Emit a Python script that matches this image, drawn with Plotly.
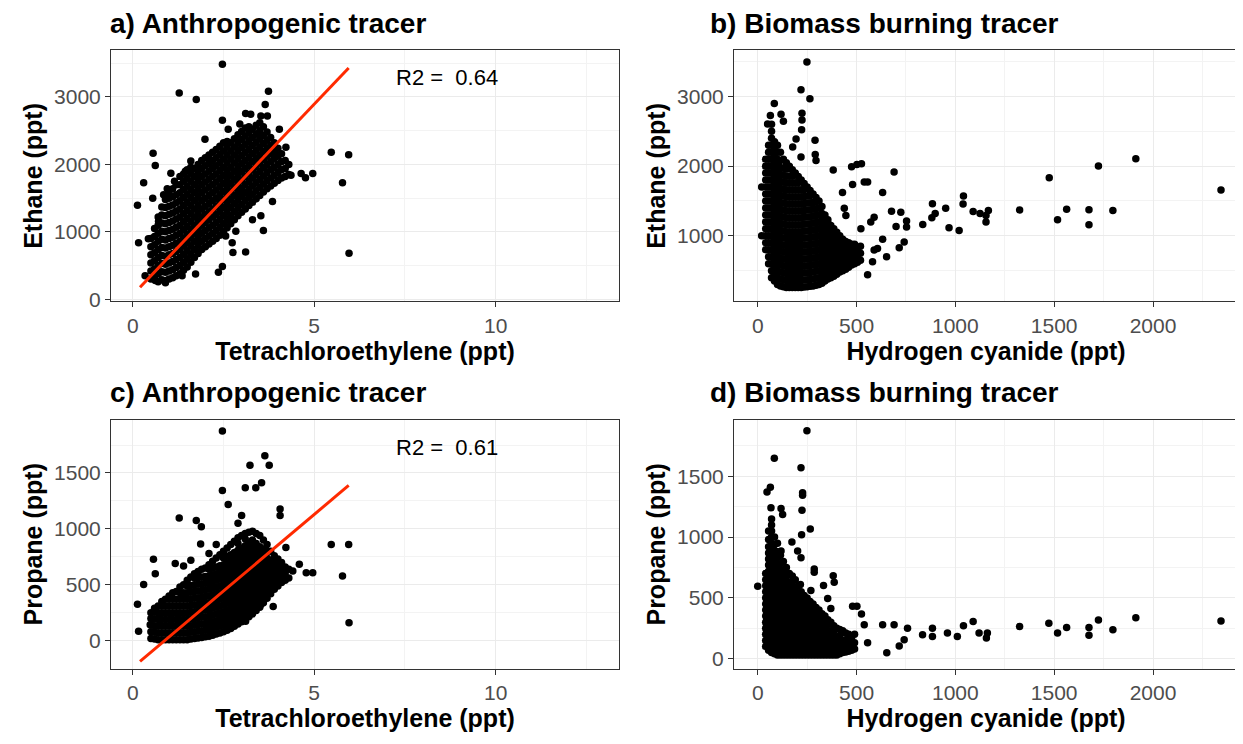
import plotly.graph_objects as go

# ---------------- Panel a: Tetrachloroethylene vs Ethane ----------------
A_OUT_X = [2.47, 1.28, 1.75, 3.74, 3.65, 5.47, 5.95, 5.78, 5.96, 0.13, 0.16, 0.56, 0.62, 0.30, 1.99, 2.47, 2.63,
           3.11, 3.25, 3.53, 3.71, 4.04, 4.22, 4.64, 4.76, 4.96, 4.36, 3.85, 3.60, 3.11, 2.76, 2.47, 2.36, 0.71,
           0.43, 3.53, 3.30, 3.21, 3.02, 2.70, 2.84, 2.56, 2.74, 0.34, 0.62, 0.90, 1.36, 1.73,
           0.95, 1.05, 1.45, 1.60, 2.05, 2.20, 1.15, 0.85, 0.55, 3.45, 3.95, 2.95]
A_OUT_Y = [3484, 3060, 2962, 3084, 2889, 2181, 2142, 1728, 683, 1396, 839, 2167, 1986, 1728, 2372, 2655, 2523,
           2757, 2743, 2718, 2718, 2523, 2255, 1864, 1801, 1864, 1840, 1449, 1020, 703, 693, 488, 400, 1157,
           898, 1240, 1181, 1523, 1571, 1181, 1010, 937, 839, 351, 278, 244, 351, 376,
           1640, 1870, 1900, 2050, 2100, 1950, 1750, 1550, 1500, 2450, 2150, 2600]
A_CLOUD_X = [0.5, 0.7, 0.9, 1.1, 1.3, 1.5, 1.7, 1.9, 2.1, 2.3, 2.5, 2.7, 2.9, 3.1, 3.3, 3.5, 3.7, 3.9, 4.1, 4.3,
             0.6, 0.8, 1.0, 1.2, 1.4, 1.6, 1.8, 2.0, 2.2, 2.4, 2.6, 2.8, 3.0, 3.2, 3.4, 3.6, 3.8, 4.0, 4.2]
A_CLOUD_Y = [
    [300, 420, 540, 660, 780, 900],
    [260, 380, 500, 620, 740, 860, 980, 1100, 1220],
    [280, 400, 520, 640, 760, 880, 1000, 1120, 1240, 1360, 1480],
    [320, 440, 560, 680, 800, 920, 1040, 1160, 1280, 1400, 1520, 1640],
    [380, 500, 620, 740, 860, 980, 1100, 1220, 1340, 1460, 1580, 1700, 1820],
    [480, 600, 720, 840, 960, 1080, 1200, 1320, 1440, 1560, 1680, 1800, 1920],
    [620, 740, 860, 980, 1100, 1220, 1340, 1460, 1580, 1700, 1820, 1940],
    [740, 860, 980, 1100, 1220, 1340, 1460, 1580, 1700, 1820, 1940, 2060],
    [820, 940, 1060, 1180, 1300, 1420, 1540, 1660, 1780, 1900, 2020, 2140],
    [900, 1020, 1140, 1260, 1380, 1500, 1620, 1740, 1860, 1980, 2100, 2220],
    [1000, 1120, 1240, 1360, 1480, 1600, 1720, 1840, 1960, 2080, 2200, 2320],
    [1120, 1240, 1360, 1480, 1600, 1720, 1840, 1960, 2080, 2200, 2320],
    [1240, 1360, 1480, 1600, 1720, 1840, 1960, 2080, 2200, 2320, 2440],
    [1340, 1460, 1580, 1700, 1820, 1940, 2060, 2180, 2300, 2420, 2540],
    [1440, 1560, 1680, 1800, 1920, 2040, 2160, 2280, 2400, 2520],
    [1540, 1660, 1780, 1900, 2020, 2140, 2260, 2380, 2500, 2620],
    [1640, 1760, 1880, 2000, 2120, 2240, 2360, 2480],
    [1720, 1840, 1960, 2080, 2200, 2320],
    [1800, 1920, 2040, 2160],
    [1850, 2000],
    [330, 450, 570, 690, 810, 930, 1050],
    [290, 410, 530, 650, 770, 890, 1010, 1130, 1250, 1370],
    [300, 420, 540, 660, 780, 900, 1020, 1140, 1260, 1380, 1500, 1580],
    [350, 470, 590, 710, 830, 950, 1070, 1190, 1310, 1430, 1550, 1700],
    [430, 550, 670, 790, 910, 1030, 1150, 1270, 1390, 1510, 1630, 1750, 1860],
    [550, 670, 790, 910, 1030, 1150, 1270, 1390, 1510, 1630, 1750, 1870, 1960],
    [680, 800, 920, 1040, 1160, 1280, 1400, 1520, 1640, 1760, 1880, 2000],
    [780, 900, 1020, 1140, 1260, 1380, 1500, 1620, 1740, 1860, 1980, 2100],
    [860, 980, 1100, 1220, 1340, 1460, 1580, 1700, 1820, 1940, 2060, 2180],
    [950, 1070, 1190, 1310, 1430, 1550, 1670, 1790, 1910, 2030, 2150, 2270],
    [1060, 1180, 1300, 1420, 1540, 1660, 1780, 1900, 2020, 2140, 2260, 2340],
    [1180, 1300, 1420, 1540, 1660, 1780, 1900, 2020, 2140, 2260, 2380],
    [1290, 1410, 1530, 1650, 1770, 1890, 2010, 2130, 2250, 2370, 2490],
    [1390, 1510, 1630, 1750, 1870, 1990, 2110, 2230, 2350, 2470, 2560],
    [1490, 1610, 1730, 1850, 1970, 2090, 2210, 2330, 2450, 2580],
    [1590, 1710, 1830, 1950, 2070, 2190, 2310, 2430, 2560],
    [1680, 1800, 1920, 2040, 2160, 2280, 2400],
    [1760, 1880, 2000, 2120, 2240],
    [1820, 1940, 2060],
]
A_FIT_X = [0.2, 5.95]
A_FIT_Y = [180, 3430]

# ---------------- Panel b: HCN vs Ethane ----------------
B_OUT_X = [249, 219, 264, 84, 64, 118, 130, 224, 224, 222, 50, 290, 194, 177, 291, 295, 219, 475, 502, 525, 690,
           382, 539, 556, 480, 632, 429, 1041, 1039, 884, 951, 898, 881, 835, 968, 1019, 1090, 1125, 1167, 1155,
           1155, 1325, 1475, 1517, 1563, 1676, 1676, 1724, 1797, 1913, 2344, 677, 724, 700, 753, 753, 741, 716,
           652, 581, 556, 589, 606, 632, 522, 572, 589, 438, 446, 20, 20]
B_OUT_Y = [3495, 3098, 2966, 2900, 2725, 2743, 2644, 2758, 2663, 2521, 2606, 2370, 2389, 2275, 2166, 2081, 2133,
           1991, 2024, 2034, 1916, 1944, 1773, 1773, 1736, 1622, 1622, 1570, 1457, 1461, 1395, 1320, 1258, 1164,
           1116, 1078, 1348, 1320, 1362, 1291, 1197, 1372, 1835, 1230, 1381, 1376, 1159, 2001, 1362, 2105, 1656,
           1353, 1339, 1135, 1211, 1126, 913, 828, 700, 629, 440, 795, 818, 951, 1102, 1197, 1268, 1395, 1291,
           1700, 1000]
B_CLOUD_X = [40, 70, 100, 130, 160, 190, 220, 250, 280, 310, 340, 370, 400, 430, 460, 490, 520,
             55, 85, 115, 145, 175, 205, 235, 265, 295, 325, 355, 385, 415, 445, 475, 505]
B_CLOUD_Y = [
    [800, 900, 1000, 1100, 1200, 1300, 1400, 1500, 1600, 1700, 1800, 1900, 2000, 2100],
    [400, 500, 600, 700, 800, 900, 1000, 1100, 1200, 1300, 1400, 1500, 1600, 1700, 1800, 1900, 2000, 2100, 2200, 2300, 2400, 2500, 2600],
    [300, 400, 500, 600, 700, 800, 900, 1000, 1100, 1200, 1300, 1400, 1500, 1600, 1700, 1800, 1900, 2000, 2100, 2200, 2300],
    [270, 370, 470, 570, 670, 770, 870, 970, 1070, 1170, 1270, 1370, 1470, 1570, 1670, 1770, 1870, 1970, 2100],
    [260, 360, 460, 560, 660, 760, 860, 960, 1060, 1160, 1260, 1360, 1460, 1560, 1660, 1760, 1860, 2000],
    [260, 360, 460, 560, 660, 760, 860, 960, 1060, 1160, 1260, 1360, 1460, 1560, 1660, 1760, 1900],
    [260, 360, 460, 560, 660, 760, 860, 960, 1060, 1160, 1260, 1360, 1460, 1560, 1660, 1800],
    [270, 370, 470, 570, 670, 770, 870, 970, 1070, 1170, 1270, 1370, 1470, 1570, 1700],
    [280, 380, 480, 580, 680, 780, 880, 980, 1080, 1180, 1280, 1380, 1480, 1600],
    [300, 400, 500, 600, 700, 800, 900, 1000, 1100, 1200, 1300, 1400, 1500],
    [350, 450, 550, 650, 750, 850, 950, 1050, 1150, 1250, 1300],
    [400, 500, 600, 700, 800, 900, 1000, 1100, 1150],
    [450, 550, 650, 750, 850, 950, 1050],
    [500, 600, 700, 800, 900, 950],
    [550, 650, 750, 850, 900],
    [600, 700, 800, 880],
    [650, 750, 850],
    [600, 700, 800, 900, 1000, 1100, 1200, 1300, 1400, 1500, 1600, 1700, 1800, 1900, 2000, 2100, 2200, 2300],
    [350, 450, 550, 650, 750, 850, 950, 1050, 1150, 1250, 1350, 1450, 1550, 1650, 1750, 1850, 1950, 2050, 2150, 2250, 2350],
    [280, 380, 480, 580, 680, 780, 880, 980, 1080, 1180, 1280, 1380, 1480, 1580, 1680, 1780, 1880, 1980, 2080, 2200],
    [260, 360, 460, 560, 660, 760, 860, 960, 1060, 1160, 1260, 1360, 1460, 1560, 1660, 1760, 1860, 1960, 2050],
    [260, 360, 460, 560, 660, 760, 860, 960, 1060, 1160, 1260, 1360, 1460, 1560, 1660, 1760, 1860, 1950],
    [260, 360, 460, 560, 660, 760, 860, 960, 1060, 1160, 1260, 1360, 1460, 1560, 1660, 1760, 1850],
    [265, 365, 465, 565, 665, 765, 865, 965, 1065, 1165, 1265, 1365, 1465, 1565, 1665, 1750],
    [275, 375, 475, 575, 675, 775, 875, 975, 1075, 1175, 1275, 1375, 1475, 1575, 1650],
    [290, 390, 490, 590, 690, 790, 890, 990, 1090, 1190, 1290, 1390, 1490, 1550],
    [320, 420, 520, 620, 720, 820, 920, 1020, 1120, 1220, 1320, 1420],
    [380, 480, 580, 680, 780, 880, 980, 1080, 1180, 1230],
    [420, 520, 620, 720, 820, 920, 1020, 1100],
    [480, 580, 680, 780, 880, 980, 1000],
    [520, 620, 720, 820, 920],
    [580, 680, 780, 880],
    [620, 720, 820],
]

# ---------------- Panel c: Tetrachloroethylene vs Propane ----------------
C_OUT_X = [2.47, 3.64, 3.23, 3.76, 3.55, 3.10, 3.39, 2.47, 2.63, 1.28, 1.75, 1.89, 4.06, 4.06, 5.47, 5.95, 5.78,
           5.96, 0.13, 0.16, 0.30, 0.57, 0.62, 1.17, 1.40, 1.87, 4.22, 4.59, 4.78, 4.96, 4.41, 3.90, 3.87, 3.53,
           3.11, 2.79, 2.47, 0.48, 2.10, 2.30, 2.90, 3.00, 1.60]
C_OUT_Y = [1875, 1653, 1569, 1569, 1413, 1368, 1368, 1344, 1218, 1098, 1074, 1020, 1179, 1119, 861, 861, 579,
           162, 327, 84, 504, 729, 600, 690, 669, 864, 834, 684, 609, 609, 624, 570, 306, 324, 174, 180, 249, 144,
           780, 860, 1050, 1120, 720]
C_CLOUD_X = [0.5, 0.7, 0.9, 1.1, 1.3, 1.5, 1.7, 1.9, 2.1, 2.3, 2.5, 2.7, 2.9, 3.1, 3.3, 3.5, 3.7, 3.9, 4.1, 4.3,
             0.6, 0.8, 1.0, 1.2, 1.4, 1.6, 1.8, 2.0, 2.2, 2.4, 2.6, 2.8, 3.0, 3.2, 3.4, 3.6, 3.8, 4.0, 4.2]
C_CLOUD_Y = [
    [20, 80, 140, 200, 250],
    [10, 70, 130, 190, 250, 310],
    [10, 70, 130, 190, 250, 310, 370],
    [10, 70, 130, 190, 250, 310, 370, 430],
    [10, 70, 130, 190, 250, 310, 370, 430, 480],
    [10, 70, 130, 190, 250, 310, 370, 430, 490, 540],
    [20, 80, 140, 200, 260, 320, 380, 440, 500, 560, 600],
    [30, 90, 150, 210, 270, 330, 390, 450, 510, 570, 640],
    [40, 100, 160, 220, 280, 340, 400, 460, 520, 580, 640, 680],
    [60, 120, 180, 240, 300, 360, 420, 480, 540, 600, 660, 740],
    [80, 140, 200, 260, 320, 380, 440, 500, 560, 620, 680, 740, 800],
    [110, 170, 230, 290, 350, 410, 470, 530, 590, 650, 710, 770, 860],
    [150, 210, 270, 330, 390, 450, 510, 570, 630, 690, 750, 810, 870, 920],
    [190, 250, 310, 370, 430, 490, 550, 610, 670, 730, 790, 850, 910, 960],
    [240, 300, 360, 420, 480, 540, 600, 660, 720, 780, 840, 900, 980],
    [300, 360, 420, 480, 540, 600, 660, 720, 780, 840, 940],
    [380, 440, 500, 560, 620, 680, 740, 800, 860],
    [460, 520, 580, 640, 700, 760],
    [520, 580, 640, 700],
    [560, 640],
    [15, 75, 135, 195, 255, 290],
    [10, 70, 130, 190, 250, 310, 350],
    [10, 70, 130, 190, 250, 310, 370, 400],
    [10, 70, 130, 190, 250, 310, 370, 440],
    [10, 70, 130, 190, 250, 310, 370, 430, 500],
    [15, 75, 135, 195, 255, 315, 375, 435, 495, 570],
    [25, 85, 145, 205, 265, 325, 385, 445, 505, 565, 620],
    [35, 95, 155, 215, 275, 335, 395, 455, 515, 575, 650],
    [50, 110, 170, 230, 290, 350, 410, 470, 530, 590, 650, 710],
    [70, 130, 190, 250, 310, 370, 430, 490, 550, 610, 670, 770],
    [95, 155, 215, 275, 335, 395, 455, 515, 575, 635, 695, 755, 830],
    [130, 190, 250, 310, 370, 430, 490, 550, 610, 670, 730, 790, 890],
    [170, 230, 290, 350, 410, 470, 530, 590, 650, 710, 770, 830, 940],
    [215, 275, 335, 395, 455, 515, 575, 635, 695, 755, 815, 875, 970],
    [270, 330, 390, 450, 510, 570, 630, 690, 750, 810, 870, 960],
    [340, 400, 460, 520, 580, 640, 700, 760, 820, 900],
    [420, 480, 540, 600, 660, 720, 800],
    [490, 550, 610, 670, 730],
    [540, 600, 660],
]
C_FIT_X = [0.2, 5.95]
C_FIT_Y = [-185, 1389]

# ---------------- Panel d: HCN vs Propane ----------------
D_OUT_X = [249, 84, 219, 64, 47, 227, 227, 67, 118, 126, 224, 266, 222, 173, 202, 219, 118, 286, 286, 382, 387,
           333, 216, 0, 480, 502, 525, 539, 632, 690, 758, 834, 884, 960, 1041, 1090, 1120, 1162, 1157, 1325,
           1473, 1517, 1563, 1676, 1676, 1724, 1797, 1913, 2344, 1010, 884, 556, 653, 716, 741, 354, 370, 269, 228]
D_OUT_Y = [1875, 1648, 1570, 1411, 1371, 1365, 1344, 1241, 1236, 1187, 1222, 1066, 1020, 960, 885, 831, 885, 737,
           710, 683, 629, 602, 610, 596, 432, 432, 367, 278, 278, 278, 251, 197, 251, 210, 270, 305, 210, 210, 170,
           264, 291, 210, 256, 256, 192, 318, 237, 337, 310, 183, 183, 130, 49, 103, 156, 494, 413, 561, 507]
D_CLOUD_X = [40, 70, 100, 130, 160, 190, 220, 250, 280, 310, 340, 370, 400, 430, 460, 490,
             55, 85, 115, 145, 175, 205, 235, 265, 295, 325, 355, 385, 415, 445, 475]
D_CLOUD_Y = [
    [100, 150, 200, 250, 300, 350, 400, 450, 500, 550, 600, 650, 700],
    [50, 100, 150, 200, 250, 300, 350, 400, 450, 500, 550, 600, 650, 700, 750, 800, 850, 900, 950, 1000, 1050, 1100, 1150],
    [30, 80, 130, 180, 230, 280, 330, 380, 430, 480, 530, 580, 630, 680, 730, 780, 830, 880, 950],
    [30, 80, 130, 180, 230, 280, 330, 380, 430, 480, 530, 580, 630, 680, 730, 800],
    [30, 80, 130, 180, 230, 280, 330, 380, 430, 480, 530, 580, 630, 700],
    [30, 80, 130, 180, 230, 280, 330, 380, 430, 480, 530, 580, 650],
    [30, 80, 130, 180, 230, 280, 330, 380, 430, 480, 550],
    [30, 80, 130, 180, 230, 280, 330, 380, 430, 500],
    [30, 80, 130, 180, 230, 280, 330, 380, 450],
    [30, 80, 130, 180, 230, 280, 330, 400],
    [30, 80, 130, 180, 230, 280, 350],
    [30, 80, 130, 180, 230, 300],
    [30, 80, 130, 180, 250],
    [50, 100, 150, 230],
    [60, 110, 160, 200],
    [80, 130, 200],
    [70, 120, 170, 220, 270, 320, 370, 420, 470, 520, 570, 620, 670, 720, 770, 820, 870, 920, 980, 1050],
    [40, 90, 140, 190, 240, 290, 340, 390, 440, 490, 540, 590, 640, 690, 740, 790, 840, 890, 940, 1000],
    [30, 80, 130, 180, 230, 280, 330, 380, 430, 480, 530, 580, 630, 680, 730, 780, 850],
    [30, 80, 130, 180, 230, 280, 330, 380, 430, 480, 530, 580, 630, 680, 750],
    [30, 80, 130, 180, 230, 280, 330, 380, 430, 480, 530, 580, 630, 680],
    [30, 80, 130, 180, 230, 280, 330, 380, 430, 480, 530, 600],
    [30, 80, 130, 180, 230, 280, 330, 380, 430, 480, 520],
    [30, 80, 130, 180, 230, 280, 330, 380, 430, 470],
    [30, 80, 130, 180, 230, 280, 330, 380, 420],
    [30, 80, 130, 180, 230, 280, 330, 370],
    [30, 80, 130, 180, 230, 280, 320],
    [30, 80, 130, 180, 230, 270],
    [40, 90, 140, 190, 240],
    [55, 105, 155, 210],
    [70, 120, 170],
]

TITLES = ["a) Anthropogenic tracer", "b) Biomass burning tracer", "c) Anthropogenic tracer", "d) Biomass burning tracer"]
XLABELS = ["Tetrachloroethylene (ppt)", "Hydrogen cyanide (ppt)", "Tetrachloroethylene (ppt)", "Hydrogen cyanide (ppt)"]
YLABELS = ["Ethane (ppt)", "Ethane (ppt)", "Propane (ppt)", "Propane (ppt)"]
R2_TEXT = ["R2 =  0.64", "R2 =  0.61"]


def flatten(cx, cy):
    xs, ys = [], []
    for x, col in zip(cx, cy):
        for y in col:
            xs.append(x)
            ys.append(y)
    return xs, ys


OFF = 8  # default page body margin
W, H = 1243 - OFF, 744 - 2 * OFF


def fx_(px):
    return min(1.0, (px - OFF) / W)


def fy_(py):
    return 1 - (py - OFF) / H


fig = go.Figure()
doms_x = [[fx_(111), fx_(619)], [fx_(734), fx_(1238)], [fx_(111), fx_(619)], [fx_(734), fx_(1238)]]
doms_y = [[fy_(305), fy_(51)], [fy_(305), fy_(51)], [fy_(677), fy_(425)], [fy_(677), fy_(425)]]
xr = [[-0.6, 13.4], [-120, 2430], [-0.6, 13.4], [-120, 2430]]
yr = [[-30, 3690], [60, 3660], [-250, 1975], [-83, 1965]]
xd = [5, 500, 5, 500]
yd = [1000, 1000, 500, 500]

panels = [
    (A_OUT_X, A_OUT_Y, A_CLOUD_X, A_CLOUD_Y),
    (B_OUT_X, B_OUT_Y, B_CLOUD_X, B_CLOUD_Y),
    (C_OUT_X, C_OUT_Y, C_CLOUD_X, C_CLOUD_Y),
    (D_OUT_X, D_OUT_Y, D_CLOUD_X, D_CLOUD_Y),
]
mk = dict(color="black", size=7.5)
for i, (ox, oy, cx, cy) in enumerate(panels):
    sfx = "" if i == 0 else str(i + 1)
    px, py = flatten(cx, cy)
    fig.add_trace(go.Scatter(x=px + ox, y=py + oy, mode="markers", marker=mk,
                             xaxis="x" + sfx, yaxis="y" + sfx, showlegend=False, hoverinfo="skip"))

fig.add_trace(go.Scatter(x=A_FIT_X, y=A_FIT_Y, mode="lines", line=dict(color="#FF2A00", width=3),
                         xaxis="x", yaxis="y", showlegend=False))
fig.add_trace(go.Scatter(x=C_FIT_X, y=C_FIT_Y, mode="lines", line=dict(color="#FF2A00", width=3),
                         xaxis="x3", yaxis="y3", showlegend=False))

FONT = "Liberation Sans, Arial"
tick_font = dict(family=FONT, size=21, color="#4D4D4D")
title_font = dict(family=FONT, size=25, color="black")
layout = dict(width=W, height=H, margin=dict(l=0, r=0, t=0, b=0), plot_bgcolor="white", paper_bgcolor="white")
annotations = []
for i in range(4):
    sfx = "" if i == 0 else str(i + 1)
    common = dict(showline=True, linecolor="#333333", linewidth=1, mirror=True, ticks="outside", ticklen=5,
                  tickcolor="#333333", gridcolor="#EBEBEB", gridwidth=1, zeroline=False, tickfont=tick_font)
    layout["xaxis" + sfx] = dict(domain=doms_x[i], range=xr[i], dtick=xd[i], tick0=0, anchor="y" + sfx,
                                 minor=dict(dtick=xd[i] / 2, tick0=0, showgrid=True, gridcolor="#F3F3F3", ticks=""),
                                 title=dict(text="<b>%s</b>" % XLABELS[i], font=title_font, standoff=2), **common)
    layout["yaxis" + sfx] = dict(domain=doms_y[i], range=yr[i], dtick=yd[i], tick0=0, anchor="x" + sfx,
                                 minor=dict(dtick=yd[i] / 2, tick0=0, showgrid=True, gridcolor="#F3F3F3", ticks=""),
                                 title=dict(text="<b>%s</b>" % YLABELS[i], font=title_font, standoff=4), **common)
    annotations.append(dict(text="<b>%s</b>" % TITLES[i], xref="paper", yref="paper",
                            x=fx_(108 if i % 2 == 0 else 708), y=doms_y[i][1] + 10 / H,
                            xanchor="left", yanchor="bottom", showarrow=False,
                            font=dict(family=FONT, size=28, color="black")))
annotations.append(dict(text=R2_TEXT[0], xref="x", yref="y", x=8.65, y=3294, showarrow=False,
                        font=dict(family=FONT, size=22, color="black")))
annotations.append(dict(text=R2_TEXT[1], xref="x3", yref="y3", x=8.65, y=1732, showarrow=False,
                        font=dict(family=FONT, size=22, color="black")))
layout["annotations"] = annotations
fig.update_layout(**layout)
fig.write_html("out.html")
